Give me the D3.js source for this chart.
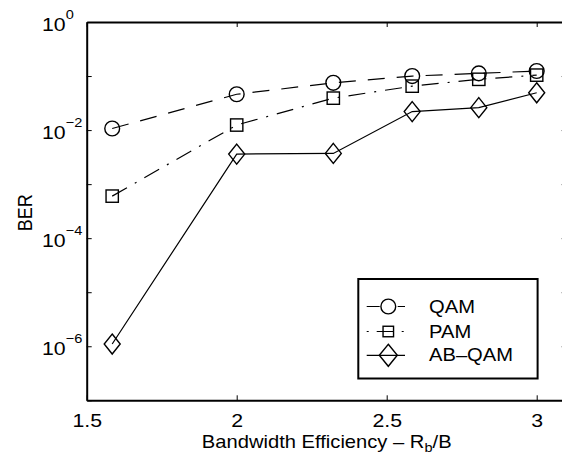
<!DOCTYPE html>
<html>
<head>
<meta charset="utf-8">
<script src="https://cdn.jsdelivr.net/npm/d3@7"></script>
<style>
  body { margin: 0; background: #fff; }
  text { font-family: "Liberation Sans", Arial, sans-serif; fill: #000; }
</style>
</head>
<body>
<div id="chart"></div>
<script>
// bits per symbol, log2(M) for M = 3..8
let rates = [1.585, 2, 2.322, 2.585, 2.807, 3];
let qam = [0.0107, 0.046, 0.075, 0.100, 0.112, 0.124];
let pam = [0.0006, 0.0124, 0.039, 0.065, 0.087, 0.104];
let abqam = [0.0000011, 0.0036, 0.0037, 0.022, 0.026, 0.049];
let seriesNames = ["QAM", "PAM", "AB\u2013QAM"];
let xTicks = [1.5, 2, 2.5, 3];
let yTicks = [1e-7, 1e-6, 1e-5, 1e-4, 1e-3, 1e-2, 1e-1, 1];

let width = 562;
let height = 454;
let pLeft = 86.7, pTop = 22, pRight = 566.7, pBottom = 400.3;
let sx = 1.12; // text looks stretched sideways in the picture

var svg = d3.select("#chart").append("svg")
    .attr("width", width)
    .attr("height", height);

svg.append("rect")
    .attr("width", width)
    .attr("height", height)
    .attr("fill", "#fff");

var xScale = d3.scaleLinear()
    .domain([1.5, 3.1])
    .range([pLeft, pRight]);

var yScale = d3.scaleLog()
    .domain([1e-7, 1])
    .range([pBottom, pTop]);

// axes, ticks pointing inward
var gx = svg.append("g")
    .attr("transform", "translate(0," + pBottom + ")")
    .call(d3.axisBottom(xScale).tickValues(xTicks).tickSizeInner(-5).tickSizeOuter(0).tickPadding(13)
        .tickFormat(d3.format("")));
var gxTop = svg.append("g")
    .attr("transform", "translate(0," + pTop + ")")
    .call(d3.axisTop(xScale).tickValues(xTicks).tickSizeInner(-5).tickSizeOuter(0).tickFormat(""));
var gy = svg.append("g")
    .attr("transform", "translate(" + pLeft + ",0)")
    .call(d3.axisLeft(yScale).tickValues(yTicks).tickSizeInner(-5).tickSizeOuter(0).tickFormat(""));
var gyRight = svg.append("g")
    .attr("transform", "translate(" + pRight + ",0)")
    .call(d3.axisRight(yScale).tickValues(yTicks).tickSizeInner(-5).tickSizeOuter(0).tickFormat(""));

[gx, gxTop, gy, gyRight].forEach(function(g) {
    g.select(".domain").attr("stroke", "#000").attr("stroke-width", 2);
    g.selectAll(".tick line").attr("stroke", "#000").attr("stroke-width", 1);
});

gx.selectAll(".tick text")
    .attr("font-size", 19)
    .attr("font-family", "Liberation Sans, Arial, sans-serif")
    .attr("fill", "#000")
    .attr("transform", "scale(" + sx + ",1)");

// y labels: 10^n at every second decade
gy.selectAll(".tick").each(function(d) {
    let e = Math.round(Math.log10(d));
    if (e % 2 !== 0) return;
    let t = d3.select(this).append("text")
        .attr("transform", "translate(-44.7,8.5) scale(" + sx + ",1)")
        .attr("text-anchor", "start")
        .attr("font-size", 19)
        .attr("fill", "#000");
    t.append("tspan").text("10");
    t.append("tspan")
        .attr("dy", -12)
        .attr("font-size", 13)
        .text(e === 0 ? "0" : "\u2212" + Math.abs(e));
});

// axis titles
svg.append("text")
    .attr("transform", "translate(" + ((pLeft + pRight) / 2) + ",448) scale(" + sx + ",1)")
    .attr("text-anchor", "middle")
    .attr("font-size", 18)
    .call(function(t) {
        t.append("tspan").text("Bandwidth Efficiency \u2013 R");
        t.append("tspan").attr("dy", 4).attr("font-size", 13).text("b");
        t.append("tspan").attr("dy", -4).text("/B");
    });

svg.append("text")
    .attr("transform", "translate(31.5,212.7) scale(" + sx + ",1) rotate(-90)")
    .attr("text-anchor", "middle")
    .attr("font-size", 18)
    .text("BER");

// series
var styles = [
    { data: qam, dash: "17,12", marker: "circle" },
    { data: pam, dash: "17,9,2,9", marker: "square" },
    { data: abqam, dash: null, marker: "diamond" }
];

var line = d3.line()
    .x(function(d) { return xScale(d[0]); })
    .y(function(d) { return yScale(d[1]); });

function drawMarker(g, kind, cx, cy, big) {
    if (kind === "circle") {
        g.append("circle").attr("cx", cx).attr("cy", cy).attr("r", 7.4);
    } else if (kind === "square") {
        let s = big ? 12.3 : 10.5;
        g.append("rect").attr("x", cx - s / 2).attr("y", cy - s / 2).attr("width", s).attr("height", s);
    } else {
        let w = big ? 8 : 9, h = big ? 10 : 11;
        g.append("path").attr("d", "M" + cx + "," + (cy - h) + "L" + (cx + w) + "," + cy +
            "L" + cx + "," + (cy + h) + "L" + (cx - w) + "," + cy + "Z");
    }
}

styles.forEach(function(s) {
    let pts = rates.map(function(r, i) { return [r, s.data[i]]; });
    svg.append("path")
        .datum(pts)
        .attr("d", line)
        .attr("fill", "none")
        .attr("stroke", "#000")
        .attr("stroke-width", 1.2)
        .attr("stroke-dasharray", s.dash);
    let mg = svg.append("g").attr("fill", "none").attr("stroke", "#000").attr("stroke-width", 1.4);
    pts.forEach(function(p) {
        drawMarker(mg, s.marker, xScale(p[0]), yScale(p[1]), true);
    });
});

// legend
var lg = svg.append("g");
lg.append("rect")
    .attr("x", 358.3).attr("y", 279)
    .attr("width", 179.3).attr("height", 99.5)
    .attr("fill", "#fff")
    .attr("stroke", "#000")
    .attr("stroke-width", 2);

var legendDash = ["13,18", "2,8,17,8", null];
var rowY = [306.5, 331.5, 355.3];
seriesNames.forEach(function(name, i) {
    lg.append("line")
        .attr("x1", 366.7).attr("x2", 405)
        .attr("y1", rowY[i]).attr("y2", rowY[i])
        .attr("stroke", "#000")
        .attr("stroke-width", 1.2)
        .attr("stroke-dasharray", legendDash[i]);
    let mg = lg.append("g").attr("fill", "none").attr("stroke", "#000").attr("stroke-width", 1.4);
    drawMarker(mg, styles[i].marker, 388.3, rowY[i], false);
    lg.append("text")
        .attr("transform", "translate(429," + (rowY[i] + 6) + ") scale(" + sx + ",1)")
        .attr("font-size", 18)
        .text(name);
});
</script>
</body>
</html>
